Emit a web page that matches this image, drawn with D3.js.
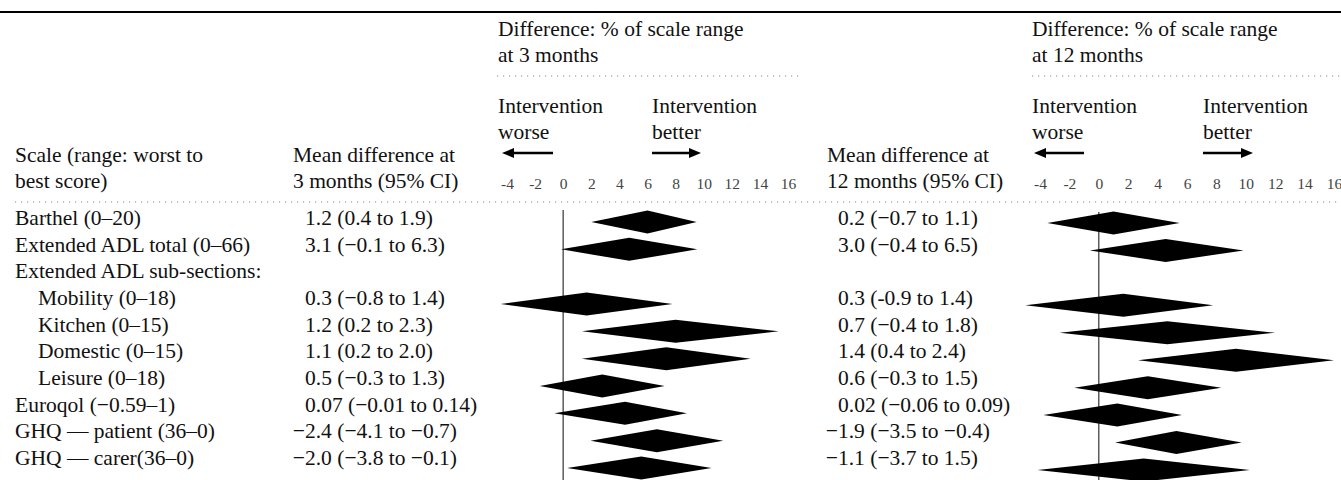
<!DOCTYPE html>
<html><head><meta charset="utf-8">
<script src="https://cdn.jsdelivr.net/npm/d3@7"></script>
<style>
html,body{margin:0;padding:0;background:#fff;}
svg text{font-family:"Liberation Serif","Times New Roman",serif;fill:#111;}
</style></head>
<body><svg id="c" width="1341" height="480"></svg>
<script>
// ---- data ----
const labels = ["Barthel (0–20)", "Extended ADL total (0–66)", "Extended ADL sub-sections:",
  "Mobility (0–18)", "Kitchen (0–15)", "Domestic (0–15)", "Leisure (0–18)",
  "Euroqol (−0.59–1)", "GHQ — patient (36–0)", "GHQ — carer(36–0)"];
const indent = [0,0,0,1,1,1,1,0,0,0];
const scaleWorst = [0, 0, null, 0, 0, 0, 0, -0.59, 36, 36];
const scaleBest  = [20, 66, null, 18, 15, 15, 18, 1, 0, 0];
const decimals = [1,1,null,1,1,1,1,2,1,1];
const mean3 = [1.2, 3.1, null, 0.3, 1.2, 1.1, 0.5, 0.07, -2.4, -2.0];
const lo3   = [0.4, -0.1, null, -0.8, 0.2, 0.2, -0.3, -0.01, -4.1, -3.8];
const hi3   = [1.9, 6.3, null, 1.4, 2.3, 2.0, 1.3, 0.14, -0.7, -0.1];
const mean12 = [0.2, 3.0, null, 0.3, 0.7, 1.4, 0.6, 0.02, -1.9, -1.1];
const lo12   = [-0.7, -0.4, null, -0.9, -0.4, 0.4, -0.3, -0.06, -3.5, -3.7];
const hi12   = [1.1, 6.5, null, 1.4, 1.8, 2.4, 1.5, 0.09, -0.4, 1.5];
const hyphenRows12 = [3];
const tickValues = [-4,-2,0,2,4,6,8,10,12,14,16];
const tickLabels = ["-4","-2","0","2","4","6","8","10","12","14","16"];
const panelTitles = [["Difference: % of scale range","at 3 months"],["Difference: % of scale range","at 12 months"]];
const colHeaders = [["Scale (range: worst to","best score)"],["Mean difference at","3 months (95% CI)"],["Mean difference at","12 months (95% CI)"]];

// ---- layout ----
const svg = d3.select("#c");
const FS = 21.5;
const x1 = d3.scaleLinear().domain([-4,16]).range([507,788]);
const x2 = d3.scaleLinear().domain([-4,16]).range([1040,1334]);
const rowIdx = d3.range(labels.length);
const yText = d3.scaleLinear().domain([0,9]).range([225,465]);
const yD1 = d3.scaleLinear().domain([0,9]).range([222,468]);
const yD2 = d3.scaleLinear().domain([0,9]).range([223,470]);

// top rule
svg.append("line").attr("x1",0).attr("x2",1341).attr("y1",12).attr("y2",12)
  .attr("stroke","#000").attr("stroke-width",2.2);

function dotted(xa,xb,y){
  svg.append("line").attr("x1",xa).attr("x2",xb).attr("y1",y).attr("y2",y)
    .attr("stroke","#888").attr("stroke-width",1).attr("stroke-dasharray","1.2,4.8");
}
dotted(497,802,76);
dotted(1032,1341,76);
dotted(15,1341,202);

// column headers
const hx = [15,293,827];
colHeaders.forEach((h,k)=>{
  h.forEach((t,j)=>svg.append("text").attr("x",hx[k]).attr("y",162+j*26).attr("font-size",FS).text(t));
});

// panels
const panels = [
  {x:x1, px:498, betterX:652, worseArrow:[553,502], betterArrow:[652,701], mean:mean3, lo:lo3, hi:hi3, yD:yD1, zeroTop:210, sw:1.6, sc:"#666"},
  {x:x2, px:1032, betterX:1203, worseArrow:[1084,1034], betterArrow:[1203,1253], mean:mean12, lo:lo12, hi:hi12, yD:yD2, zeroTop:212, sw:1.2, sc:"#333"}
];
function arrow(xa,xb,y){
  const dir = Math.sign(xb-xa);
  svg.append("line").attr("x1",xa).attr("x2",xb-dir*9).attr("y1",y).attr("y2",y)
    .attr("stroke","#000").attr("stroke-width",2.4);
  svg.append("path").attr("d",`M${xb},${y} L${xb-dir*12},${y-5} L${xb-dir*12},${y+5} Z`).attr("fill","#000");
}
function pct(v,i){ return v/(scaleBest[i]-scaleWorst[i])*100; }

panels.forEach((p,k)=>{
  panelTitles[k].forEach((t,j)=>svg.append("text").attr("x",p.px).attr("y",36+j*26).attr("font-size",FS).text(t));
  svg.append("text").attr("x",p.px).attr("y",113).attr("font-size",FS).text("Intervention");
  svg.append("text").attr("x",p.px).attr("y",139).attr("font-size",FS).text("worse");
  svg.append("text").attr("x",p.betterX).attr("y",113).attr("font-size",FS).text("Intervention");
  svg.append("text").attr("x",p.betterX).attr("y",139).attr("font-size",FS).text("better");
  arrow(p.worseArrow[0],p.worseArrow[1],153);
  arrow(p.betterArrow[0],p.betterArrow[1],153);
  // ticks
  const ax = d3.axisBottom(p.x).tickValues(tickValues).tickSize(0).tickFormat((d,i)=>tickLabels[i]);
  const g = svg.append("g").attr("transform","translate(0,175)").call(ax);
  g.select(".domain").remove();
  g.selectAll("text").attr("font-size",15.5).style("fill","#444");
  // zero line
  svg.append("line").attr("x1",p.x(0)).attr("x2",p.x(0)).attr("y1",p.zeroTop).attr("y2",480)
    .attr("stroke",p.sc).attr("stroke-width",p.sw);
  // diamonds
  const H = 11.5;
  svg.append("g").selectAll("path").data(rowIdx.filter(i=>p.mean[i]!==null)).join("path")
    .attr("d",i=>{
      const a=p.x(pct(p.lo[i],i)), b=p.x(pct(p.hi[i],i)), m=p.x(pct(p.mean[i],i)), y=p.yD(i);
      return `M${a},${y} L${m},${y-H} L${b},${y} L${m},${y+H} Z`;
    }).attr("fill","#000");
});

// row labels
svg.append("g").selectAll("text").data(rowIdx).join("text")
  .attr("x",i=>indent[i]?38:15).attr("y",i=>yText(i)).attr("font-size",FS).text(i=>labels[i]);

// value columns
function fmtVal(v,d,hy){ const s=v.toFixed(d); return v<0 ? (hy?"-":"−")+s.slice(1) : s; }
function ciText(m,l,h,i,hy){ const d=decimals[i]; return `${fmtVal(m,d,false)} (${fmtVal(l,d,hy)} to ${fmtVal(h,d,hy)})`; }
[[mean3,lo3,hi3,305,false],[mean12,lo12,hi12,838,true]].forEach(([m,l,h,x,is12])=>{
  const rows = rowIdx.filter(i=>m[i]!==null);
  const t = svg.append("g").selectAll("text").data(rows).join("text")
    .attr("y",i=>yText(i)).attr("font-size",FS)
    .text(i=>ciText(m[i],l[i],h[i],i,is12 && hyphenRows12.includes(i)));
  t.each(function(i){
    let dx=0;
    if(m[i]<0){ const tmp=svg.append("text").attr("font-size",FS).text("−"); dx=tmp.node().getComputedTextLength(); tmp.remove(); }
    d3.select(this).attr("x",x-dx);
  });
});
</script></body></html>
